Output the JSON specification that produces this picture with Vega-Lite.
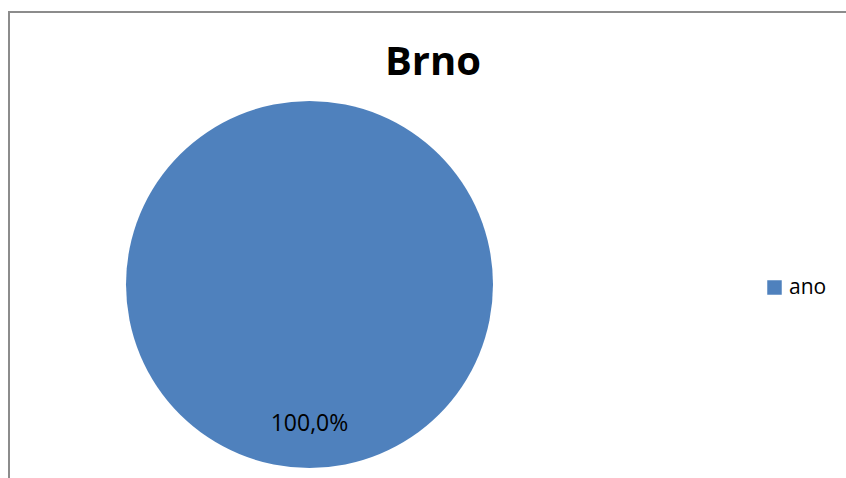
{
  "$schema": "https://vega.github.io/schema/vega-lite/v6.json",
  "width": 848,
  "height": 470,
  "padding": {"left": 9, "top": 12, "right": 0, "bottom": 0},
  "autosize": {"type": "none"},
  "background": "white",
  "view": {"stroke": "#8c8c8c", "strokeWidth": 2, "fill": "white"},
  "config": {
    "view": {"stroke": "#8c8c8c", "strokeWidth": 2},
    "font": "Open Sans"
  },
  "title": {
    "text": "Brno",
    "fontSize": 40,
    "fontWeight": "bold",
    "font": "Open Sans",
    "color": "black",
    "anchor": "middle",
    "frame": "group",
    "baseline": "alphabetic",
    "dy": 107
  },
  "data": {"values": [{"category": "ano", "value": 1, "label": "100,0%"}]},
  "encoding": {
    "theta": {"field": "value", "type": "quantitative", "stack": true}
  },
  "layer": [
    {
      "mark": {"type": "arc", "outerRadius": 183.5, "xOffset": -123.5, "yOffset": 37.5},
      "encoding": {
        "color": {
          "field": "category",
          "type": "nominal",
          "scale": {"range": ["#4F81BD"]},
          "legend": {
            "title": null,
            "orient": "none",
            "legendX": 755,
            "legendY": 265,
            "padding": 0,
            "symbolType": "square",
            "symbolSize": 210,
            "symbolStrokeWidth": 0,
            "symbolOpacity": 1,
            "labelFontSize": 21,
            "labelFont": "Open Sans",
            "labelColor": "black",
            "labelOffset": 4
          }
        }
      }
    },
    {
      "mark": {"type": "text", "radius": 139, "xOffset": -123.5, "yOffset": 37.5, "fontSize": 23, "font": "Open Sans", "color": "black"},
      "encoding": {"text": {"field": "label"}}
    }
  ]
}
